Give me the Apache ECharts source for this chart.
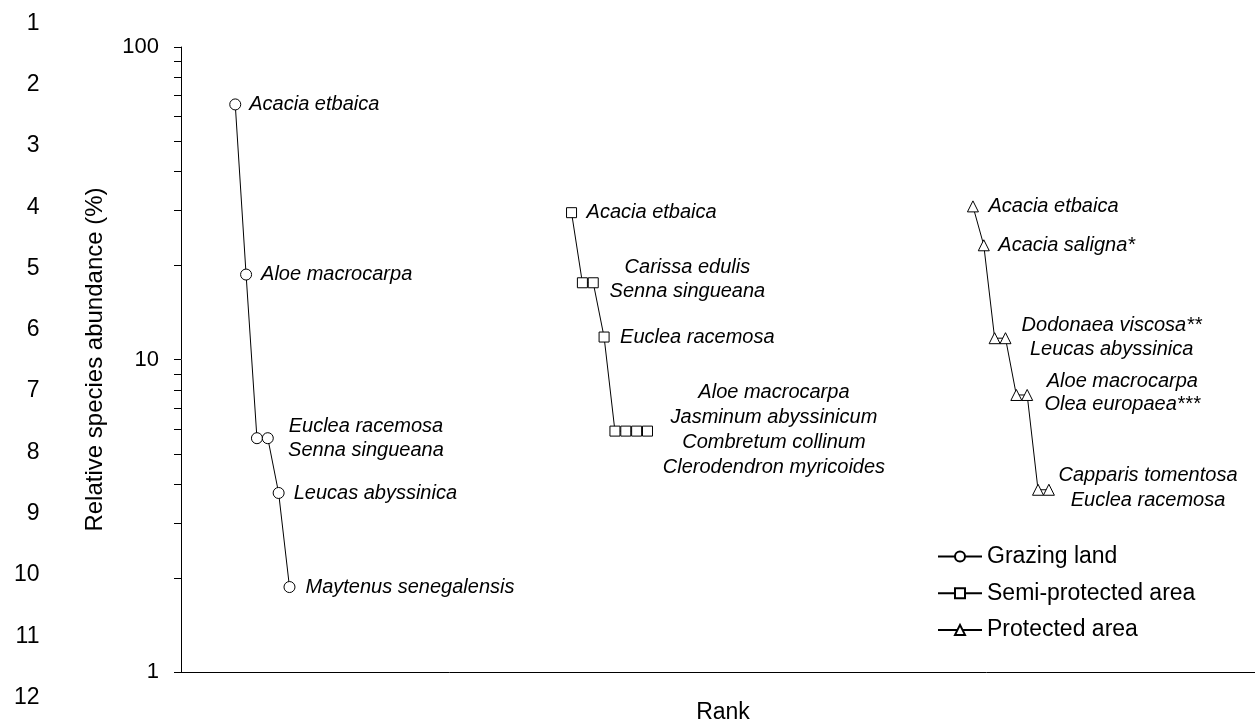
<!DOCTYPE html>
<html>
<head>
<meta charset="utf-8">
<script src="https://cdn.jsdelivr.net/npm/echarts@6/dist/echarts.min.js"></script>
<style>
  html, body { margin: 0; padding: 0; background: #fff; }
  #chart { width: 1255px; height: 724px; }
</style>
</head>
<body>
<div id="chart"></div>
<script>
// Row numbers printed down the left margin
const rowNumbers = ['1', '2', '3', '4', '5', '6', '7', '8', '9', '10', '11', '12'];

const seriesNames = ['Grazing land', 'Semi-protected area', 'Protected area'];

// Grazing land
const grazingSpecies = ['Acacia etbaica', 'Aloe macrocarpa', 'Euclea racemosa', 'Senna singueana',
  'Leucas abyssinica', 'Maytenus senegalensis'];
const grazingRank = [5, 6, 7, 8, 9, 10];
const grazingAbundance = [65.5, 18.7, 5.6, 5.6, 3.74, 1.87];

// Semi-protected area
const semiSpecies = ['Acacia etbaica', 'Carissa edulis', 'Senna singueana', 'Euclea racemosa',
  'Aloe macrocarpa', 'Jasminum abyssinicum', 'Combretum collinum', 'Clerodendron myricoides'];
const semiRank = [36, 37, 38, 39, 40, 41, 42, 43];
const semiAbundance = [29.5, 17.6, 17.6, 11.8, 5.9, 5.9, 5.9, 5.9];

// Protected area
const protectedSpecies = ['Acacia etbaica', 'Acacia saligna*', 'Dodonaea viscosa**', 'Leucas abyssinica',
  'Aloe macrocarpa', 'Olea europaea***', 'Capparis tomentosa', 'Euclea racemosa'];
const protectedRank = [73, 74, 75, 76, 77, 78, 79, 80];
const protectedAbundance = [30.9, 23.2, 11.7, 11.7, 7.7, 7.7, 3.83, 3.83];

// Minor ticks of the logarithmic abundance axis
const minorTickValues = [2, 3, 4, 5, 6, 7, 8, 9, 20, 30, 40, 50, 60, 70, 80, 90];

// Label placement: [first index, number of names, dx, dy, align, lineHeight]
const grazingLabelLayout = [
  [0, 1, 14, 0, 'left'], [1, 1, 15, 0, 'left'], [2, 2, 109, 0, 'center', 24],
  [4, 1, 15, 0, 'left'], [5, 1, 16, 0, 'left']
];
const semiLabelLayout = [
  [0, 1, 15, 0, 'left'], [1, 2, 105, -3, 'center', 24], [3, 1, 16, 0, 'left'],
  [4, 4, 159, -1, 'center', 25]
];
const protectedLabelLayout = [
  [0, 1, 15.5, 0, 'left'], [1, 1, 14.5, 0, 'left'], [2, 2, 117, -1, 'center', 24],
  [4, 2, 106, -2, 'center', 23.5], [6, 2, 110, -2, 'center', 24.5]
];

const FONT = "'Liberation Sans', Arial, Helvetica, sans-serif";

function buildData(rank, abundance, species, layout) {
  const data = rank.map((r, i) => ({ value: [r, abundance[i]] }));
  layout.forEach(([start, count, dx, dy, align, lh]) => {
    data[start].label = {
      show: true,
      position: 'inside',
      align: align,
      verticalAlign: 'middle',
      offset: [dx, dy],
      lineHeight: lh || 24,
      formatter: species.slice(start, start + count).join('\n')
    };
  });
  return data;
}

function lineSeries(name, symbol, size, data) {
  return {
    type: 'line',
    name: name,
    data: data,
    symbol: symbol,
    symbolSize: size,
    showAllSymbol: true,
    lineStyle: { color: '#000', width: 1 },
    itemStyle: { color: '#fff', borderColor: '#000', borderWidth: 1 },
    label: {
      show: false,
      fontFamily: FONT,
      fontStyle: 'italic',
      fontSize: 20,
      color: '#000',
      textBorderWidth: 0
    },
    emphasis: { disabled: true },
    z: 3
  };
}

const chart = echarts.init(document.getElementById('chart'), null, { renderer: 'canvas' });

const rowGraphics = rowNumbers.map((t, i) => ({
  type: 'text',
  x: 39.5,
  y: 23.3 + i * 61.3,
  style: {
    text: t,
    fill: '#000',
    font: '23px ' + FONT,
    align: 'right',
    verticalAlign: 'middle'
  }
}));

chart.setOption({
  animation: false,
  backgroundColor: '#fff',
  textStyle: { fontFamily: FONT, color: '#000' },
  graphic: rowGraphics,
  grid: { left: 181, right: 0, top: 47, bottom: 52, containLabel: false, outerBoundsMode: 'none' },
  legend: {
    data: seriesNames,
    orient: 'vertical',
    left: 937,
    top: 545,
    padding: 0,
    itemWidth: 44,
    itemHeight: 12.5,
    itemGap: 13.7,
    textStyle: { fontFamily: FONT, fontSize: 23, color: '#000', lineHeight: 23 },
    selectedMode: false
  },
  xAxis: {
    type: 'value',
    min: 0,
    max: 99,
    name: 'Rank',
    nameLocation: 'middle',
    nameGap: 29,
    nameTextStyle: { fontFamily: FONT, fontSize: 23, color: '#000', padding: [0, 0, 0, 10] },
    axisLine: { show: true, onZero: false, lineStyle: { color: '#000', width: 1 } },
    axisTick: { show: false },
    axisLabel: { show: false },
    splitLine: { show: false }
  },
  yAxis: {
    type: 'log',
    logBase: 10,
    min: 1,
    max: 100,
    name: 'Relative species abundance (%)',
    nameLocation: 'middle',
    nameGap: 74,
    nameTextStyle: { fontFamily: FONT, fontSize: 24, color: '#000' },
    axisLine: { show: true, onZero: false, lineStyle: { color: '#000', width: 1 } },
    axisTick: { show: true, length: 7, lineStyle: { color: '#000', width: 1 } },
    axisLabel: { fontFamily: FONT, fontSize: 22, color: '#000', margin: 22 },
    splitLine: { show: false }
  },
  series: [
    lineSeries(seriesNames[0], 'circle', 11,
      buildData(grazingRank, grazingAbundance, grazingSpecies, grazingLabelLayout)),
    lineSeries(seriesNames[1], 'rect', 10,
      buildData(semiRank, semiAbundance, semiSpecies, semiLabelLayout)),
    lineSeries(seriesNames[2], 'triangle', 11,
      buildData(protectedRank, protectedAbundance, protectedSpecies, protectedLabelLayout)),
    {
      // minor tick marks on the log axis, placed through the axis scale
      type: 'custom',
      name: 'minorTicks',
      silent: true,
      clip: false,
      data: minorTickValues.map(v => [0, v]),
      renderItem: function (params, api) {
        const p = api.coord([api.value(0), api.value(1)]);
        const y = Math.round(p[1]) + 0.5;
        return {
          type: 'line',
          shape: { x1: p[0] - 7, y1: y, x2: p[0], y2: y },
          style: { stroke: '#000', lineWidth: 1 }
        };
      },
      z: 1
    }
  ]
});
</script>
</body>
</html>
